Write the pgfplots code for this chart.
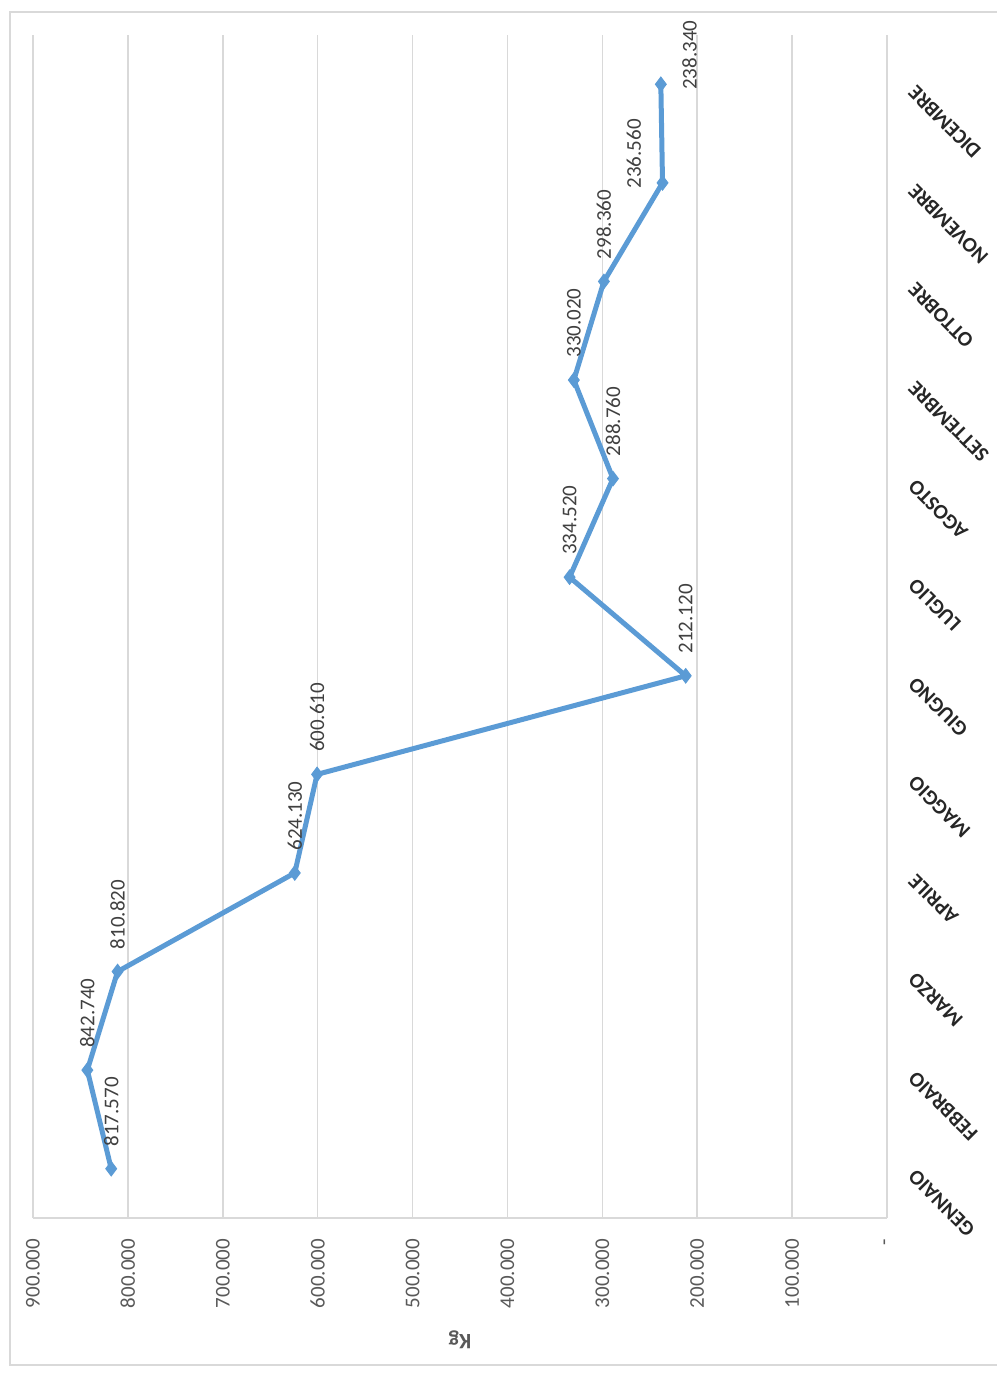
\documentclass[border=0pt]{standalone}
\usepackage{pgfplots}
\pgfplotsset{compat=1.18}
\usepackage{pgfplotstable}
\usepackage{fontspec}
\setmainfont{Carlito}
\definecolor{xlblue}{HTML}{5B9BD5}
\definecolor{gridc}{HTML}{D9D9D9}
\definecolor{txt}{HTML}{595959}
\definecolor{lbl}{HTML}{404040}
\pgfplotstableread{
m v lab
0 817570 817.570
1 842740 842.740
2 810820 810.820
3 624130 624.130
4 600610 600.610
5 212120 212.120
6 334520 334.520
7 288760 288.760
8 330020 330.020
9 298360 298.360
10 236560 236.560
11 238340 238.340
}\datatable
\pgfplotstableread{
m v lab
0 817570 817.570
1 842740 842.740
2 810820 810.820
3 624130 624.130
4 600610 600.610
5 212120 212.120
6 334520 334.520
7 288760 288.760
8 330020 330.020
9 298360 298.360
}\labelsabove
\pgfplotstableread{
m v lab
10 236560 236.560
}\labelleft
\pgfplotstableread{
m v lab
11 238340 238.340
}\labelright
\begin{document}
\begin{tikzpicture}
\begin{axis}[
  at={(16.5pt,78.5pt)}, anchor=south west,
  width=427pt, height=591.5pt, scale only axis,
  xmin=0, xmax=900000, x dir=reverse,
  ymin=-0.5, ymax=11.5,
  xtick={0,100000,200000,300000,400000,500000,600000,700000,800000,900000},
  xticklabels={-,100.000,200.000,300.000,400.000,500.000,600.000,700.000,800.000,900.000},
  scaled x ticks=false,
  ytick={0,1,2,3,4,5,6,7,8,9,10,11},
  yticklabels={GENNAIO,FEBBRAIO,MARZO,APRILE,MAGGIO,GIUGNO,LUGLIO,AGOSTO,SETTEMBRE,OTTOBRE,NOVEMBRE,DICEMBRE},
  yticklabel pos=right,
  xmajorgrids, major grid style={gridc, line width=0.75pt},
  axis line style={draw=none},
  major tick length=0pt,
  xticklabel shift=7pt,
  xticklabel style={rotate=90, anchor=east, font=\fontsize{10.5}{12}\selectfont, text=txt},
  yticklabel shift=10pt,
  yticklabel style={rotate=135, anchor=east, font=\fontsize{10.5}{12}\selectfont\bfseries, text=black!85},
  xlabel={Kg},
  xlabel style={rotate=180, at={(axis description cs:0.5,-0.103)}, anchor=center, font=\fontsize{11}{13}\selectfont\bfseries, text=txt},
  clip=false,
]
\addplot[xlblue, line width=2.5pt, mark=diamond*, mark size=3.6pt,
  mark options={fill=xlblue, draw=xlblue, line width=0.5pt}]
  table[x=v, y=m] {\datatable};
\addplot[draw=none, mark=none,
  nodes near coords, point meta=explicit symbolic,
  every node near coord/.append style={rotate=90, anchor=west, inner xsep=11pt, font=\fontsize{10.5}{12}\selectfont, text=lbl}]
  table[x=v, y=m, meta=lab] {\labelsabove};
\addplot[draw=none, mark=none,
  nodes near coords, point meta=explicit symbolic,
  every node near coord/.append style={yshift=-3pt, rotate=90, anchor=south west, inner xsep=0pt, inner ysep=10.5pt, font=\fontsize{10.5}{12}\selectfont, text=lbl}]
  table[x=v, y=m, meta=lab] {\labelleft};
\addplot[draw=none, mark=none,
  nodes near coords, point meta=explicit symbolic,
  every node near coord/.append style={yshift=-3pt, rotate=90, anchor=north west, inner xsep=0pt, inner ysep=10.5pt, font=\fontsize{10.5}{12}\selectfont, text=lbl}]
  table[x=v, y=m, meta=lab] {\labelright};
\draw[gridc, line width=0.75pt] (axis cs:0,-0.5) -- (axis cs:0,11.5);
\draw[gridc, line width=0.75pt] (axis cs:900000,-0.5) -- (axis cs:0,-0.5);
\end{axis}
\draw[gridc, line width=0.75pt] (5pt,5pt) rectangle (502pt,681.5pt);
\pgfresetboundingbox
\path[use as bounding box] (0,0) rectangle (498pt,687.5pt);
\end{tikzpicture}
\end{document}
